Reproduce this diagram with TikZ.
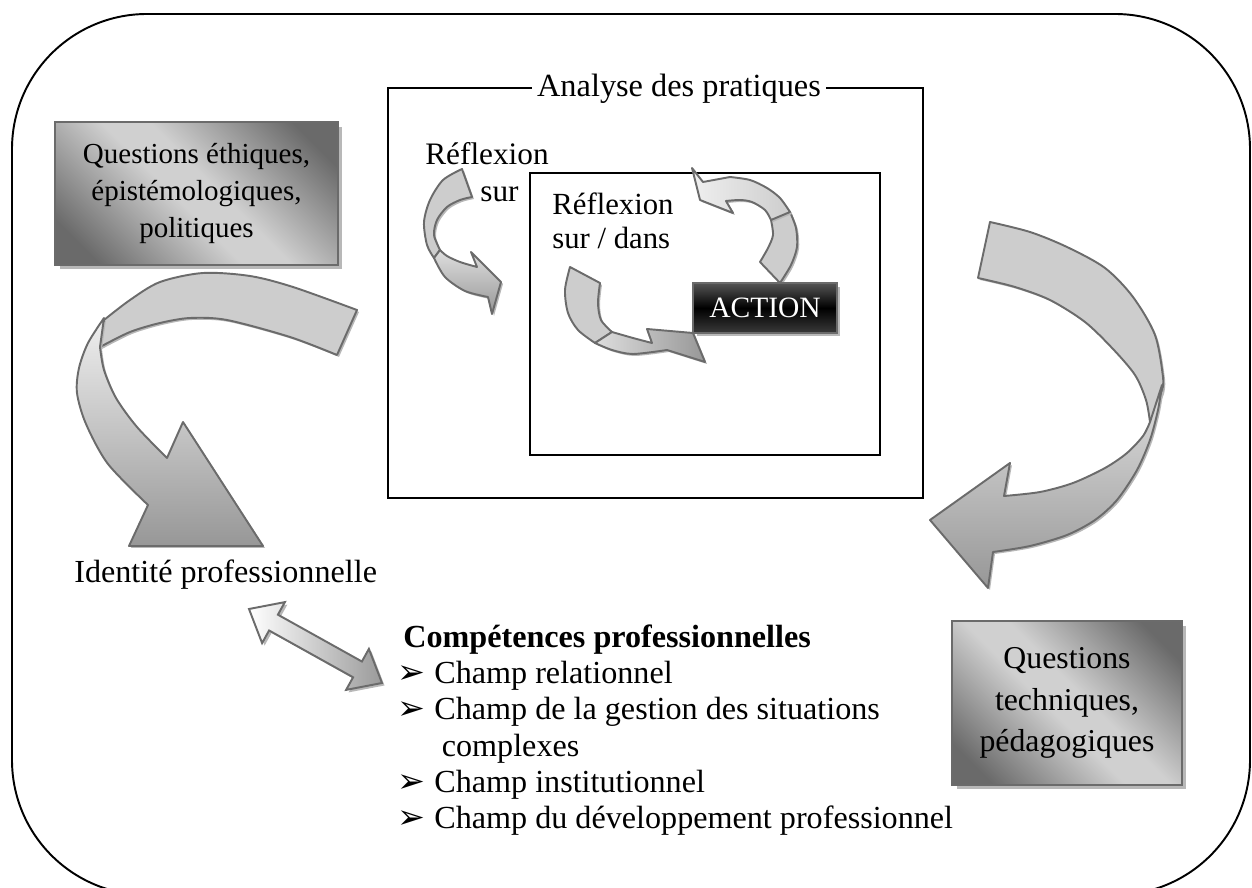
\documentclass[tikz,border=0pt]{standalone}
\usepackage{fontspec}
\setmainfont{Liberation Serif}
\newfontfamily\dejavu{DejaVu Sans}
\usetikzlibrary{shadows}
\definecolor{rib}{HTML}{CDCDCD}
\definecolor{ribtop}{HTML}{EFEFEF}
\definecolor{ribmid}{HTML}{DEDEDE}
\definecolor{ribdark}{HTML}{979797}
\definecolor{ribedge}{HTML}{6B6B6B}
\definecolor{boxdark}{HTML}{6A6A6A}
\definecolor{boxlight}{HTML}{D0D0D0}
\definecolor{shad}{HTML}{B8B8B8}
\definecolor{actone}{HTML}{555555}
\definecolor{acttwo}{HTML}{3A3A3A}
\definecolor{dblend}{HTML}{9A9A9A}
\pgfdeclarehorizontalshading{boxshade}{100bp}{color(0bp)=(boxdark); color(22bp)=(boxdark); color(46bp)=(boxlight); color(54bp)=(boxlight); color(78bp)=(boxdark); color(100bp)=(boxdark)}
\newcommand\cbul{\makebox[0.7cm][l]{\dejavu\fontsize{19}{19}\selectfont ➢}}
\tikzset{
 ribbon/.style={draw=ribedge, line width=1.1pt, line join=round, drop shadow={shadow xshift=0.04cm, shadow yshift=-0.04cm, fill=shad, opacity=1}},
 gbox/.style={draw=ribedge, line width=1.2pt, shade, shading=boxshade, shading angle=45, drop shadow={shadow xshift=0.09cm, shadow yshift=-0.09cm, fill=shad, opacity=1}, align=center, inner sep=0pt},
 lbl/.style={inner sep=0pt, font=\fontsize{18.3}{21}\selectfont},
 frame/.style={draw, line width=1pt, inner sep=0pt},
}
\begin{document}
\begin{tikzpicture}[x=0.02cm,y=-0.02cm]
\useasboundingbox (0,0) rectangle (1252,888);
\begin{scope}
\clip (0,0) rectangle (1252,888);
\draw[line width=1.1pt, rounded corners=2.7cm] (12,14) rectangle (1250,895);
\end{scope}

% practice analysis frames
\node[frame, minimum width=10.7cm, minimum height=8.2cm] (ap) at (655.5,293) {};
\node[lbl, anchor=base, fill=white, inner xsep=0.1cm, font=\fontsize{18.4}{21}\selectfont] (aptitle) at (679,97) {Analyse des pratiques};
\node[frame, minimum width=7cm, minimum height=5.64cm] (rsd) at (705,314) {};

% gradient boxes
\node[gbox, minimum width=5.66cm, minimum height=2.86cm, font=\fontsize{16.5}{21.3}\selectfont] (qe) at (196.5,193.5) {Questions éthiques,\\épistémologiques,\\politiques};
\node[gbox, minimum width=4.6cm, minimum height=3.28cm, font=\fontsize{18.1}{23.5}\selectfont] (qt) at (1067,703) {Questions\\techniques,\\pédagogiques};

% texts
\node[lbl, anchor=base west, font=\fontsize{17.8}{21}\selectfont] (ref1) at (425,165) {\begin{tabular}[t]{@{}l@{}}Réflexion\\\hspace*{1.1cm}sur\end{tabular}};
\node[lbl, anchor=base west, font=\fontsize{17.5}{19}\selectfont] (ref2) at (552,215) {\begin{tabular}[t]{@{}l@{}}Réflexion\\sur / dans\end{tabular}};
\node[lbl, anchor=base west] (idp) at (74,583) {Identité professionnelle};
\node[lbl, anchor=base west, font=\fontsize{18.3}{20.7}\selectfont] (comp) at (397,647) {\begin{tabular}[t]{@{}l@{\hspace{0.04cm}}l@{}}\multicolumn{2}{@{}l@{}}{\hspace*{0.12cm}\textbf{Compétences professionnelles}}\\
\cbul & Champ relationnel\\
\cbul & Champ de la gestion des situations\\
 & \hspace*{0.15cm}complexes\\
\cbul & Champ institutionnel\\
\cbul & Champ du développement professionnel\end{tabular}};

% big left arrow
\path[ribbon, fill=rib] plot[smooth] coordinates {(357,310) (293,287) (250,276) (203,273) (160,282) (130,300) (104,320)} -- plot[smooth] coordinates {(100,347) (130,332) (160,323) (190,318) (227,320) (290,337) (337,355)} -- cycle;
\path[ribbon, top color=ribtop, bottom color=ribdark] plot[smooth] coordinates {(104,318) (88,343) (79,368) (77,393) (86,424) (108,464) (148,505)} -- (129,546) -- (263,546) -- (183,422) -- plot[smooth] coordinates {(167,458) (137,427) (116,398) (104,370) (100,347)} -- cycle;

% big right arrow
\path[ribbon, fill=rib] plot[smooth] coordinates {(990,222) (1030,232) (1067,247) (1105,268) (1133,297) (1155,335) (1163,377) (1162,392)} -- plot[smooth] coordinates {(1150,422) (1146,400) (1135,375) (1113,349) (1085,322) (1050,300) (1015,287) (978,278)} -- cycle;
\path[ribbon, top color=ribmid, bottom color=ribdark] plot[smooth] coordinates {(1162,385) (1158,410) (1150,440) (1137,470) (1117,500) (1095,520) (1067,535) (1030,546) (993,552)} -- (988,588) -- (930,520) -- (1010,463) -- plot[smooth] coordinates {(1004,496) (1040,492) (1073,483) (1105,468) (1127,453) (1143,436) (1150,422)} -- cycle;

% small arrow A (reflexion sur)
\path[ribbon, fill=rib] plot[smooth] coordinates {(462,169) (443,180) (430,200) (424,222) (427,245) (434,258)} -- plot[smooth] coordinates {(440,250) (434,235) (437,220) (447,207) (460,200) (472,197)} -- cycle;
\path[ribbon, top color=ribmid, bottom color=ribdark] plot[smooth] coordinates {(434,258) (445,277) (465,291) (488,297)} -- (492,314) -- (501,282) -- (471,252) -- (477,267) -- plot[smooth] coordinates {(477,267) (460,262) (447,256) (440,250)} -- cycle;

% small arrow B (towards ACTION)
\path[ribbon, fill=rib] plot[smooth] coordinates {(570,267) (565,290) (568,313) (578,330) (595,343)} -- plot[smooth] coordinates {(612,332) (601,320) (598,303) (600,283)} -- cycle;
\path[ribbon, left color=ribmid, right color=ribdark] plot[smooth] coordinates {(595,343) (612,350) (633,354) (667,350)} -- (705,362) -- (693,333) -- (647,329) -- (652,343) -- plot[smooth] coordinates {(652,343) (633,338) (612,332)} -- cycle;

% small arrow C (from ACTION)
\path[ribbon, fill=rib] plot[smooth] coordinates {(780,283) (791,265) (797,247) (796,228) (790,212)} -- plot[smooth] coordinates {(771,220) (773,235) (768,248) (760,262)} -- cycle;
\path[ribbon, left color=ribtop, right color=rib] plot[smooth] coordinates {(790,212) (780,198) (767,188) (750,180) (730,177)} -- (703,182) -- (692,168) -- (700,200) -- (733,213) -- (726,201) -- plot[smooth] coordinates {(726,201) (740,200) (752,202) (765,210) (771,220)} -- cycle;

% ACTION box
\node[draw=ribedge, line width=1pt, top color=actone, bottom color=acttwo, middle color=black, minimum width=2.88cm, minimum height=1cm, inner sep=0pt, text=white, font=\fontsize{16.8}{20}\selectfont, drop shadow={shadow xshift=0.07cm, shadow yshift=-0.07cm, fill=shad, opacity=1}] (act) at (765,308) {ACTION};

% double arrow between identity and competences
\path[draw=ribedge, line width=1.1pt, line join=miter, left color=white, right color=dblend, drop shadow={shadow xshift=0.05cm, shadow yshift=-0.05cm, fill=shad, opacity=1}] (249,609) -- (262.1,643.1) -- (269.1,630.5) -- (353.1,677.3) -- (346.1,689.9) -- (382,683) -- (368.9,648.9) -- (361.9,661.5) -- (277.9,614.7) -- (284.9,602.1) -- cycle;
\end{tikzpicture}
\end{document}
